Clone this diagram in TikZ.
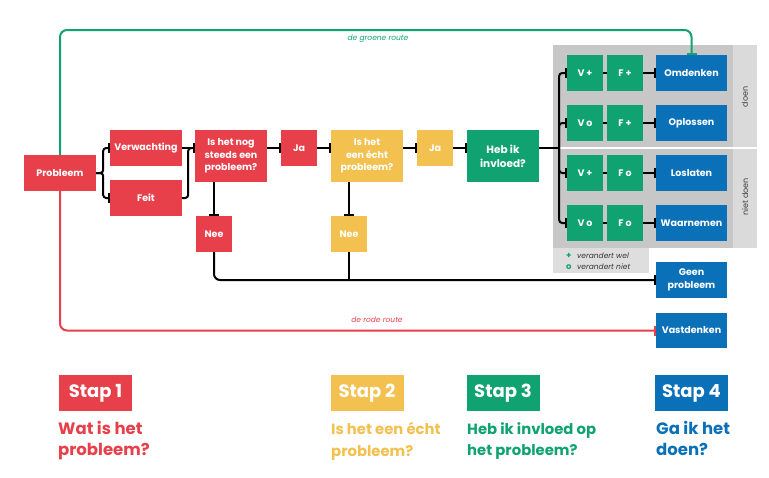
\documentclass[tikz,border=0pt]{standalone}
\usepackage{fontspec}
\setmainfont{Poppins}
\usetikzlibrary{arrows.meta,calc}
\definecolor{cred}{HTML}{E8404A}
\definecolor{cyel}{HTML}{F2C14F}
\definecolor{cgrn}{HTML}{10A371}
\definecolor{cblu}{HTML}{0A71B9}
\definecolor{cgray}{HTML}{C7C7C7}
\definecolor{cstrip}{HTML}{DADADA}
\definecolor{cleg}{HTML}{DEDEDE}
\tikzset{
  box/.style={draw=none, inner sep=0pt, text=white, align=center,
    font=\bfseries\fontsize{9.5}{12.5}\selectfont, minimum width=72pt, minimum height=36pt},
  tall/.style={minimum height=52pt},
  sq/.style={minimum width=36pt, minimum height=36pt},
  rbox/.style={box, fill=cred},
  ybox/.style={box, fill=cyel},
  gbox/.style={box, fill=cgrn},
  bbox/.style={box, fill=cblu, minimum width=71pt},
  conn/.style={line width=2pt, black, line cap=butt},
  tee/.style={-{Bar[width=10pt,line width=2pt]}},
  stapbox/.style={inner sep=0pt, text=white, minimum width=73pt, minimum height=36pt,
    font=\bfseries\fontsize{18}{20}\selectfont},
  staptext/.style={anchor=north west, inner sep=0pt, align=left,
    font=\bfseries\fontsize{16.5}{21.5}\selectfont},
  staptextb/.style={staptext, font=\bfseries\fontsize{14.8}{21.5}\selectfont},
  small/.style={font=\itshape\fontsize{7.5}{8}\selectfont, inner sep=0pt},
}
\begin{document}
\begin{tikzpicture}[x=1pt,y=-1pt]
\useasboundingbox (0,0) rectangle (769,477);
\fill[white] (0,0) rectangle (769,477);

% gray panel
\fill[cgray] (553,45) rectangle (733,248);
\fill[cstrip] (733,45) rectangle (757,248);
\draw[white, line width=2pt] (553,148) -- (757,148);
\fill[cleg] (553,248) rectangle (649,273);
\node[rotate=90, font=\fontsize{8}{8}\selectfont, text=black!75] (tdoen) at (745,97) {doen};
\node[rotate=90, font=\fontsize{8}{8}\selectfont, text=black!75] (tniet) at (745,197) {niet doen};
\node[anchor=west, inner sep=0pt, font=\bfseries\fontsize{8.5}{8}\selectfont, text=cgrn] (lplus) at (566,256) {+};
\node[anchor=west, inner sep=0pt, font=\bfseries\fontsize{8.5}{8}\selectfont, text=cgrn] (lo) at (566,267) {o};
\node[anchor=west, small, text=black!80] (lwel) at (577,256) {verandert wel};
\node[anchor=west, small, text=black!80] (lniet) at (577,267) {verandert niet};

% main nodes
\node[rbox] (prob) at (60,173) {Probleem};
\node[rbox] (verw) at (146,148) {Verwachting};
\node[rbox] (feit) at (146,198) {Feit};
\node[rbox, tall] (nog) at (231,156) {Is het nog\\steeds een\\probleem?};
\node[rbox, sq] (ja1) at (299,148) {Ja};
\node[rbox, sq] (nee1) at (214,234) {Nee};
\node[ybox, tall] (echt) at (367,156) {Is het\\een écht\\probleem?};
\node[ybox, sq] (ja2) at (435,148) {Ja};
\node[ybox, sq] (nee2) at (349,234) {Nee};
\node[gbox, tall, font=\bfseries\fontsize{10.5}{14}\selectfont] (heb) at (503,156) {Heb ik\\invloed?};

\foreach \i/\y/\v/\f/\b in {1/73/V +/F +/Omdenken, 2/123/V o/F +/Oplossen, 3/173/V +/F o/Loslaten, 4/223/V o/F o/Waarnemen}{
  \node[gbox, sq] (v\i) at (585,\y) {\v};
  \node[gbox, sq] (f\i) at (625,\y) {\f};
  \node[bbox] (b\i) at (691.5,\y) {\b};
}
\node[bbox] (geen) at (691.5,280) {Geen\\probleem};
\node[bbox, minimum height=35pt] (vast) at (691.5,330.5) {Vastdenken};

% connectors
\draw[conn, tee, rounded corners=3pt] (prob.east) -- ++(7,0) |- (verw.west);
\draw[conn, tee, rounded corners=3pt] (prob.east) -- ++(7,0) |- (feit.west);
\draw[conn, tee] (verw.east) -- (nog.west |- verw.east);
\draw[conn, tee, rounded corners=3pt] (feit.east) -- ++(6,0) |- (nog.west |- verw.east);
\draw[conn, tee] (nog.east |- ja1.west) -- (ja1.west);
\draw[conn, tee] (ja1.east) -- (echt.west |- ja1.east);
\draw[conn, tee] (echt.east |- ja2.west) -- (ja2.west);
\draw[conn, tee] (ja2.east) -- (heb.west |- ja2.east);
\draw[conn] (heb.east |- ja2.east) -- ++(20,0) coordinate (hb);
\foreach \i in {1,...,4}{
  \draw[conn, tee, rounded corners=3pt] (hb) |- (v\i.west);
  \draw[line width=1.5pt] (v\i.east) -- (f\i.west);
  \draw[conn, tee] (f\i.east) -- (b\i.west);
}
\draw[conn, tee] (nog.south -| nee1.north) -- (nee1.north);
\draw[conn, tee] (echt.south -| nee2.north) -- (nee2.north);
\draw[conn, tee, rounded corners=6pt] (nee1.south) |- (geen.west);
\draw[conn] (nee2.south) -- (nee2.south |- geen.west);

% routes
\coordinate (gtop) at (60,30);
\draw[cgrn, line width=2pt, rounded corners=7pt, -{Bar[width=10pt,line width=2pt]}] (prob.north) -- (gtop) -| (b1.north);
\node[small, text=cgrn] (glab) at (378,39) {de groene route};
\draw[cred, line width=2pt, rounded corners=7pt, -{Bar[width=10pt,line width=2pt]}] (prob.south) |- (vast.west);
\node[small, text=cred] (rlab) at (377,320) {de rode route};

% steps
\node[stapbox, fill=cred] (s1) at (95.5,393) {Stap 1};
\node[stapbox, fill=cyel] (s2) at (367,393) {Stap 2};
\node[stapbox, fill=cgrn] (s3) at (503,393) {Stap 3};
\node[stapbox, fill=cblu] (s4) at (691.5,393) {Stap 4};
\node[staptext, text=cred] (t1) at (58,421) {Wat is het\\probleem?};
\node[staptextb, text=cyel] (t2) at (331,422) {Is het een écht\\probleem?};
\node[staptextb, text=cgrn] (t3) at (467,422) {Heb ik invloed op\\het probleem?};
\node[staptext, text=cblu] (t4) at (656,421) {Ga ik het\\doen?};
\end{tikzpicture}
\end{document}
